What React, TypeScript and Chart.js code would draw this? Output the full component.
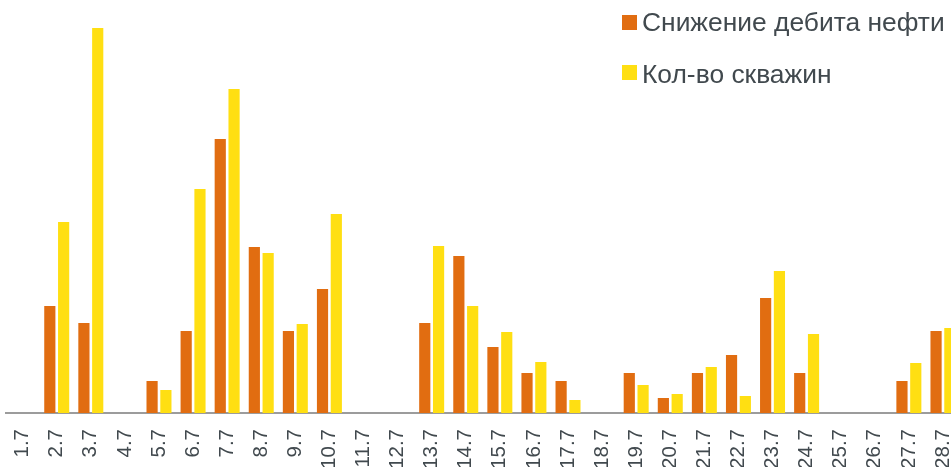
import React, { useEffect, useRef } from "react";
import { Chart, registerables } from "chart.js";

Chart.register(...registerables);

const categories = [
  "1.7", "2.7", "3.7", "4.7", "5.7", "6.7", "7.7", "8.7", "9.7", "10.7",
  "11.7", "12.7", "13.7", "14.7", "15.7", "16.7", "17.7", "18.7", "19.7", "20.7",
  "21.7", "22.7", "23.7", "24.7", "25.7", "26.7", "27.7", "28.7",
];

const oilDecline = [
  0, 107, 90, 0, 32, 82, 274, 166, 82, 124,
  0, 0, 90, 157, 66, 40, 32, 0, 40, 15,
  40, 58, 115, 40, 0, 0, 32, 82,
];

const wellCount = [
  0, 191, 385, 0, 23, 224, 324, 160, 89, 199,
  0, 0, 167, 107, 81, 51, 13, 0, 28, 19,
  46, 17, 142, 79, 0, 0, 50, 85,
];

const legendLabels = ["Снижение дебита нефти", "Кол-во скважин"];
const colors = ["#E16D11", "#FFDF12"];
const textColor = "#41494e";
const fontFamily = "'Liberation Sans', Arial, sans-serif";

export default function App() {
  const ref = useRef<HTMLCanvasElement | null>(null);

  useEffect(() => {
    document.body.style.overflow = "hidden";
    document.documentElement.style.overflow = "hidden";
    const canvas = ref.current;
    if (!canvas) return;
    const chart = new Chart(canvas, {
      type: "bar",
      data: {
        labels: categories,
        datasets: [
          {
            label: legendLabels[0],
            data: oilDecline,
            backgroundColor: colors[0],
            categoryPercentage: 0.81,
            barPercentage: 0.81,
          },
          {
            label: legendLabels[1],
            data: wellCount,
            backgroundColor: colors[1],
            categoryPercentage: 0.81,
            barPercentage: 0.81,
          },
        ],
      },
      options: {
        responsive: false,
        animation: false,
        devicePixelRatio: 1,
        layout: { padding: { left: 5.6, right: 0, top: 0, bottom: 0 } },
        plugins: {
          legend: { display: false },
          tooltip: { enabled: false },
        },
        scales: {
          x: {
            grid: { display: false, drawTicks: false },
            border: { display: true, color: "#9c9c9c", width: 2 },
            ticks: {
              minRotation: 90,
              maxRotation: 90,
              autoSkip: false,
              padding: 16,
              color: textColor,
              font: { family: fontFamily, size: 20.5 },
            },
            afterFit: (scale: any) => {
              scale.height = 54;
              scale.paddingLeft = 0;
              scale.paddingRight = 0;
            },
          },
          y: {
            display: false,
            min: 0,
            max: 413,
          },
        },
      },
    });
    return () => chart.destroy();
  }, []);

  const legendItem = (i: number, squareTop: number, textTop: number) => (
    <React.Fragment key={i}>
      <div
        style={{
          position: "absolute",
          left: 622,
          top: squareTop,
          width: 14.5,
          height: 14.5,
          background: colors[i],
        }}
      />
      <div
        style={{
          position: "absolute",
          left: 642,
          top: textTop,
          fontFamily,
          fontSize: 26.4,
          lineHeight: "26px",
          color: textColor,
          whiteSpace: "nowrap",
        }}
      >
        {legendLabels[i]}
      </div>
    </React.Fragment>
  );

  return (
    <div
      style={{
        position: "absolute",
        left: 0,
        top: 0,
        width: 960,
        height: 467,
        background: "#ffffff",
      }}
    >
      <canvas ref={ref} width={960} height={467} style={{ display: "block" }} />
      {legendItem(0, 15, 9)}
      {legendItem(1, 65, 61)}
    </div>
  );
}
